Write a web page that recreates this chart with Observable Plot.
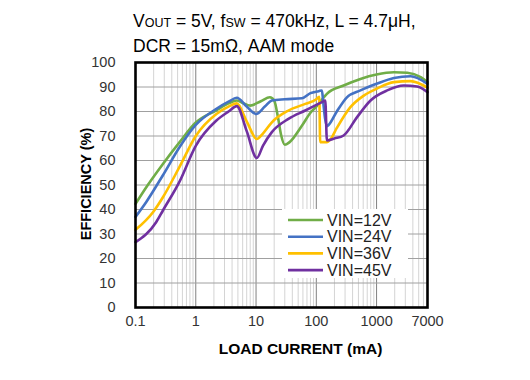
<!DOCTYPE html>
<html><head><meta charset="utf-8">
<script src="https://cdn.jsdelivr.net/npm/d3@7"></script>
<script src="https://cdn.jsdelivr.net/npm/@observablehq/plot@0.6"></script>
<style>
body{margin:0;background:#fff;font-family:"Liberation Sans",Arial,sans-serif;}
#wrap{position:relative;width:530px;height:380px;overflow:hidden;}
#title{position:absolute;left:133px;top:10px;font-size:17.5px;line-height:23px;color:#000;white-space:nowrap;z-index:2;}
.sc{font-size:12.5px;}
#chart{position:absolute;left:0;top:0;}
</style></head><body>
<div id="wrap"><div id="title">V<span class="sc">OUT</span> = 5V, f<span class="sc">SW</span> = 470kHz, L = 4.7μH,<br>DCR = 15mΩ, AAM mode</div><div id="chart"></div></div>
<script>
const seriesNames = ["VIN=12V","VIN=24V","VIN=36V","VIN=45V"];
const seriesColors = ["#70ad47","#4472c4","#ffc000","#7030a0"];
const xTicks = [0.1, 1, 10, 100, 1000, 7000];
const yTicks = [0,10,20,30,40,50,60,70,80,90,100];

const load12 = [0.1,0.15,0.285,0.54,1,2.2,3.5,4.8,6,8,12,17,20,23,26,30,36,58,80,100,130,150,284,540,1000,1940,3250,5400,7000];
const eff12  = [42.3,49,58.6,67.5,75.5,80.5,83.3,84.5,83.5,82.4,84.2,85.8,84.5,78,70.5,66.4,67.5,74.3,79.5,82,85.5,87.2,90.6,93.3,95.1,96,95.8,94,92];
const load24 = [0.1,0.15,0.285,0.54,1,2.2,3.5,4.8,7,10,14,18.3,30,58,80,110,124,130,140,150,160,219,322,540,1000,1940,3660,7000];
const eff24  = [37,43,54,65.5,74.5,81.1,84,85.6,82,79,82,84.5,85,85.4,87.5,88.3,88.6,84,77,74,74.5,80,85.8,88.6,91.3,93.7,94.4,91.3];
const load36 = [0.1,0.195,0.285,0.54,1,2.2,3.5,4.8,7,10.3,13,18.3,34.5,65.5,100,112,116,150,170,219,368,613,1000,1940,3660,7000];
const eff36  = [31.7,38.9,45,57.5,70,79,82,83.3,76,68.8,71,75.6,80.4,83.1,85,86,67.5,67.5,68.5,73.3,81.8,86.5,89.3,92,92.4,89.7];
const load45 = [0.1,0.22,0.285,0.54,1,2.2,3.5,4.8,7,10.3,13,18.3,34.5,65.5,124,141,150,200,284,475,794,1500,2830,4700,7000];
const eff45  = [26.7,34.8,39.6,51.5,66,76.3,80,82.2,72,61,66,71.6,77,80.4,83.8,84.5,68.2,69,70.2,77.7,84.5,88.6,90.6,90.2,87.9];

const loads = [load12, load24, load36, load45];
const effs = [eff12, eff24, eff36, eff45];
const rows = seriesNames.flatMap((s, i) => loads[i].map((x, j) => ({series: s, x, y: effs[i][j]})));

const decades = [0.1, 1, 10, 100, 1000];
const majorX = decades;
const minorX = decades.flatMap(d => [2,3,4,5,6,7,8,9].map(k => d * k)).filter(v => v < 7000);
const font = "'Liberation Sans', Arial, sans-serif";

const chart = Plot.plot({
  width: 530, height: 380,
  marginLeft: 135, marginRight: 103, marginTop: 62, marginBottom: 73,
  x: {type: "log", domain: [0.1, 7000], axis: null},
  y: {domain: [0, 100], axis: null},
  color: {domain: seriesNames, range: seriesColors},
  style: {fontFamily: font, background: "transparent", color: "#333"},
  marks: [
    Plot.ruleX(minorX, {stroke: "#d4d4d4", strokeWidth: 1}),
    Plot.ruleX(majorX, {stroke: "#808080", strokeWidth: 1}),
    Plot.ruleY(yTicks, {stroke: "#a0a0a0", strokeWidth: 1}),
    Plot.line(rows, {x: "x", y: "y", z: "series", stroke: "series", strokeWidth: 2.6, curve: "monotone-x"}),
    Plot.frame({stroke: "#000", strokeWidth: 2.6}),
    Plot.text(yTicks, {y: d => d, text: d => String(d), frameAnchor: "left", textAnchor: "end", dx: -20, fontSize: 14.5, fill: "#333"}),
    Plot.text(xTicks, {x: d => d, text: d => String(d), frameAnchor: "bottom", dy: 18, fontSize: 14.5, fill: "#333"}),
    Plot.text(["LOAD CURRENT (mA)"], {frameAnchor: "bottom", dx: 19, dy: 46, fontSize: 15.5, fontWeight: "bold", fill: "#000"}),
    Plot.text(["EFFICIENCY (%)"], {frameAnchor: "left", textAnchor: "middle", rotate: -90, dx: -49, dy: -1, fontSize: 14.5, fontWeight: "bold", fill: "#000"})
  ]
});
document.getElementById("chart").appendChild(chart);

// legend
const svg = d3.select(chart);
const lg = svg.append("g").attr("text-anchor", "start");
lg.append("rect").attr("x", 282).attr("y", 209).attr("width", 126).attr("height", 69).attr("fill", "#fff");
seriesNames.forEach((s, i) => {
  const yy = 220 + i * 16.7;
  lg.append("line").attr("x1", 288).attr("x2", 323).attr("y1", yy).attr("y2", yy)
    .attr("stroke", seriesColors[i]).attr("stroke-width", 2.6);
  lg.append("text").attr("x", 327).attr("y", yy).attr("dy", "0.36em").attr("text-anchor", "start")
    .attr("font-size", 16).attr("fill", "#222").attr("font-family", font).text(s);
});
</script>
</body></html>
